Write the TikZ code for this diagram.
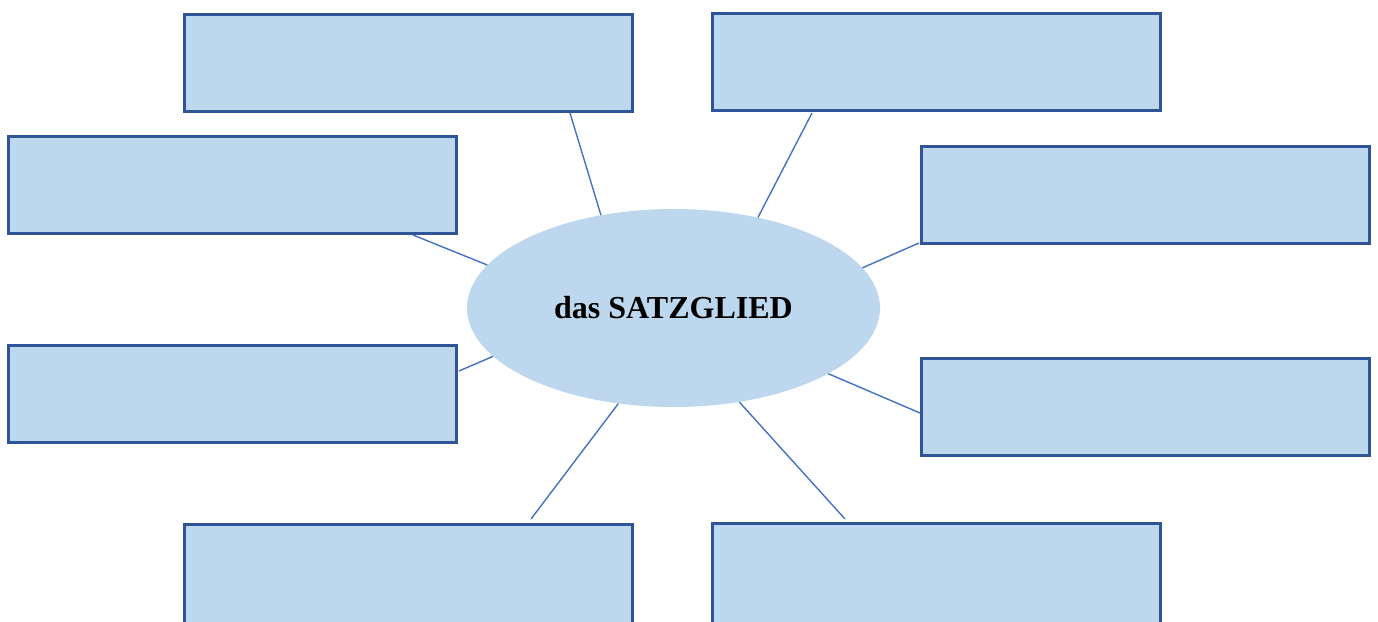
\documentclass[tikz,border=0pt]{standalone}
\usepackage{fontspec}
\setmainfont{Liberation Serif}
\usetikzlibrary{shapes.geometric}
\definecolor{boxfill}{HTML}{BDD7EE}
\definecolor{boxline}{HTML}{2F5597}
\definecolor{linkcol}{HTML}{4472C4}
\tikzset{
  slot/.style={draw=boxline, fill=boxfill, line width=3pt, minimum width=448pt, minimum height=97pt, inner sep=0pt},
  hub/.style={ellipse, fill=boxfill, minimum width=413pt, minimum height=198pt, inner sep=0pt,
     font=\fontsize{32}{38}\selectfont\bfseries},
  link/.style={draw=linkcol, line width=1.4pt}
}
\begin{document}
\begin{tikzpicture}[x=1pt,y=-1pt]
\clip (0,0) rectangle (1378,621);
\fill[white] (0,0) rectangle (1378,621);
\node[slot] (tl) at (408,62.5) {};
\node[slot] (tr) at (936.5,62) {};
\node[slot] (ml) at (232.5,185) {};
\node[slot] (mr) at (1145.5,195) {};
\node[slot] (ll) at (232.5,393.5) {};
\node[slot] (lr) at (1145.5,406.5) {};
\node[slot, minimum height=102pt] (bl) at (408,575.5) {};
\node[slot, minimum height=102pt] (br) at (936.5,574.5) {};
\node[hub] (e) at (673.5,308) {das SATZGLIED};
\coordinate (ctl) at (570,113);
\coordinate (ctr) at (812,113);
\coordinate (cml) at (413,235);
\coordinate (cmr) at (919,243);
\coordinate (cll) at (459,371);
\coordinate (clr) at (920,413);
\coordinate (cbl) at (531,519);
\coordinate (cbr) at (845,519);
\draw[link] (ctl) -- (e.128);
\draw[link] (ctr) -- (e.47.6);
\draw[link] (cml) -- (e.167.2);
\draw[link] (cmr) -- (e.12.75);
\draw[link] (cll) -- (e.195.4);
\draw[link] (clr) -- (e.337.7);
\draw[link] (cbl) -- (e.240.5);
\draw[link] (cbr) -- (e.305.7);
\end{tikzpicture}
\end{document}
